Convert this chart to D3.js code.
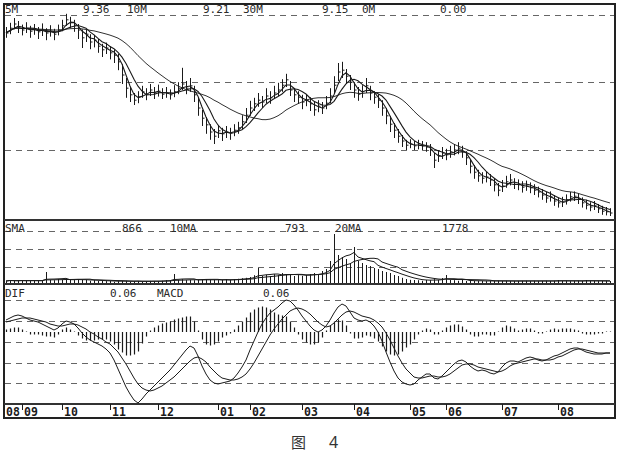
<!DOCTYPE html>
<html><head><meta charset="utf-8">
<script src="https://cdn.jsdelivr.net/npm/d3@7"></script>
<style>body{margin:0;background:#fff}svg{display:block}</style>
</head><body>
<script>
// ---------- DATA ----------
const closes = [9.30,9.38,9.45,9.40,9.35,9.38,9.33,9.37,9.32,9.35,9.30,9.33,9.28,9.35,9.42,9.52,9.48,9.43,9.35,9.22,
9.28,9.15,9.18,9.08,9.02,9.05,8.97,8.93,8.82,8.60,8.38,8.27,8.18,8.23,8.32,8.27,8.35,8.30,8.33,8.28,
8.30,8.27,8.32,8.38,8.45,8.38,8.42,8.27,8.05,7.88,7.77,7.65,7.58,7.67,7.62,7.65,7.63,7.68,7.72,7.82,
7.93,8.05,8.12,8.18,8.15,8.25,8.22,8.30,8.35,8.43,8.52,8.35,8.27,8.23,8.15,8.18,8.12,8.02,8.08,8.05,
8.13,8.25,8.43,8.65,8.68,8.58,8.48,8.35,8.28,8.32,8.42,8.30,8.23,8.18,8.05,7.92,7.78,7.68,7.58,7.50,
7.43,7.45,7.42,7.43,7.42,7.40,7.35,7.18,7.25,7.30,7.27,7.32,7.35,7.38,7.32,7.22,7.08,6.98,6.92,6.88,
6.90,6.85,6.77,6.68,6.75,6.82,6.85,6.78,6.77,6.73,6.75,6.72,6.68,6.65,6.60,6.55,6.57,6.50,6.47,6.48,
6.52,6.57,6.58,6.53,6.47,6.43,6.40,6.42,6.37,6.33,6.32,6.30];
const highs = [9.40,9.47,9.55,9.50,9.44,9.48,9.42,9.45,9.40,9.46,9.38,9.43,9.37,9.44,9.52,9.62,9.57,9.52,9.45,9.36,
9.36,9.28,9.27,9.20,9.12,9.14,9.08,9.03,8.95,8.78,8.55,8.40,8.30,8.33,8.42,8.38,8.45,8.40,8.44,8.38,
8.40,8.36,8.43,8.48,8.72,8.50,8.55,8.42,8.22,8.02,7.90,7.78,7.70,7.77,7.72,7.75,7.72,7.78,7.82,7.93,
8.05,8.17,8.22,8.30,8.25,8.38,8.33,8.42,8.47,8.53,8.62,8.50,8.38,8.33,8.27,8.28,8.23,8.15,8.18,8.15,
8.25,8.38,8.58,8.80,8.82,8.70,8.60,8.48,8.40,8.43,8.55,8.42,8.33,8.28,8.18,8.05,7.92,7.80,7.70,7.60,
7.52,7.53,7.50,7.52,7.50,7.48,7.45,7.30,7.35,7.40,7.37,7.42,7.45,7.48,7.42,7.33,7.20,7.10,7.02,6.98,
6.99,6.95,6.88,6.80,6.85,6.92,6.95,6.88,6.86,6.83,6.84,6.81,6.78,6.74,6.70,6.65,6.66,6.60,6.56,6.57,
6.61,6.65,6.66,6.62,6.56,6.52,6.48,6.50,6.45,6.42,6.40,6.38];
const lows = [9.22,9.28,9.36,9.30,9.26,9.30,9.22,9.27,9.20,9.25,9.18,9.24,9.18,9.26,9.33,9.42,9.38,9.32,9.20,9.05,
9.15,9.03,9.06,8.97,8.90,8.95,8.86,8.80,8.68,8.45,8.22,8.15,8.10,8.13,8.22,8.18,8.25,8.20,8.24,8.20,
8.22,8.19,8.23,8.28,8.35,8.28,8.32,8.15,7.92,7.75,7.62,7.52,7.45,7.55,7.50,7.55,7.52,7.58,7.62,7.70,
7.80,7.92,8.00,8.07,8.05,8.13,8.12,8.20,8.25,8.32,8.40,8.25,8.15,8.12,8.03,8.08,8.00,7.92,7.98,7.95,
8.03,8.13,8.30,8.50,8.55,8.45,8.35,8.22,8.17,8.22,8.30,8.18,8.12,8.05,7.92,7.78,7.65,7.55,7.47,7.40,
7.35,7.38,7.35,7.36,7.34,7.32,7.25,7.05,7.15,7.20,7.18,7.22,7.26,7.28,7.22,7.10,6.96,6.87,6.82,6.79,
6.81,6.75,6.66,6.58,6.65,6.72,6.76,6.70,6.68,6.64,6.67,6.63,6.60,6.56,6.52,6.47,6.49,6.42,6.39,6.40,
6.44,6.49,6.50,6.45,6.39,6.36,6.33,6.35,6.30,6.27,6.26,6.25];
const volumes = [200,300,210,220,280,200,230,290,210,200,1100,300,280,400,320,380,300,290,400,310,
300,220,280,200,210,190,200,120,180,200,210,130,180,200,110,190,210,200,190,220,
280,300,900,300,380,290,310,280,300,320,400,300,310,290,300,380,310,400,420,480,
520,600,780,1500,700,820,690,880,800,1000,900,820,700,790,720,800,900,1000,880,1200,
1400,2200,4900,2800,2600,2400,2000,3600,2200,2000,1800,1700,1500,1400,1200,1100,1000,800,700,520,
400,320,300,280,220,300,290,380,300,500,800,300,280,220,300,200,210,200,220,200,
190,210,200,220,200,210,200,190,200,210,220,200,210,190,200,220,200,210,300,200,
210,190,200,220,200,300,210,200,190,200,210,200];
const dif = [0.060,0.070,0.080,0.085,0.080,0.070,0.060,0.055,0.050,0.040,0.030,0.020,0.010,0.020,0.040,0.055,0.050,0.040,0.020,-0.005,
-0.025,-0.040,-0.050,-0.060,-0.070,-0.085,-0.105,-0.140,-0.185,-0.230,-0.275,-0.310,-0.340,-0.355,-0.335,-0.310,-0.290,-0.270,-0.250,-0.230,
-0.210,-0.190,-0.165,-0.140,-0.115,-0.090,-0.070,-0.080,-0.120,-0.170,-0.210,-0.240,-0.255,-0.260,-0.255,-0.250,-0.245,-0.230,-0.205,-0.175,
-0.140,-0.090,-0.045,0.000,0.040,0.070,0.095,0.110,0.125,0.145,0.160,0.155,0.135,0.110,0.080,0.055,0.030,0.010,0.000,0.010,
0.030,0.060,0.095,0.125,0.140,0.130,0.100,0.070,0.060,0.055,0.060,0.050,0.030,0.000,-0.045,-0.100,-0.150,-0.195,-0.230,-0.250,
-0.260,-0.265,-0.260,-0.240,-0.225,-0.210,-0.210,-0.230,-0.235,-0.220,-0.200,-0.180,-0.160,-0.145,-0.140,-0.150,-0.170,-0.185,-0.195,-0.190,
-0.195,-0.205,-0.210,-0.200,-0.175,-0.155,-0.145,-0.145,-0.150,-0.140,-0.130,-0.125,-0.130,-0.140,-0.145,-0.140,-0.130,-0.120,-0.115,-0.105,
-0.095,-0.085,-0.080,-0.080,-0.090,-0.100,-0.105,-0.110,-0.110,-0.110,-0.105,-0.105];
const dea = [0.050,0.055,0.060,0.065,0.070,0.070,0.070,0.065,0.060,0.055,0.050,0.040,0.035,0.030,0.030,0.035,0.040,0.040,0.035,0.025,
0.015,0.000,-0.010,-0.025,-0.035,-0.050,-0.060,-0.080,-0.100,-0.130,-0.160,-0.195,-0.230,-0.260,-0.280,-0.290,-0.295,-0.290,-0.280,-0.270,
-0.255,-0.240,-0.225,-0.205,-0.185,-0.165,-0.145,-0.130,-0.125,-0.135,-0.150,-0.175,-0.195,-0.215,-0.230,-0.235,-0.240,-0.240,-0.235,-0.225,
-0.210,-0.185,-0.155,-0.120,-0.085,-0.050,-0.015,0.015,0.040,0.065,0.085,0.105,0.115,0.120,0.115,0.105,0.090,0.070,0.050,0.035,
0.025,0.030,0.045,0.065,0.085,0.100,0.105,0.100,0.090,0.080,0.075,0.070,0.060,0.045,0.025,-0.005,-0.040,-0.080,-0.120,-0.155,
-0.185,-0.205,-0.225,-0.230,-0.230,-0.225,-0.220,-0.220,-0.225,-0.225,-0.220,-0.210,-0.195,-0.180,-0.165,-0.160,-0.160,-0.165,-0.175,-0.180,
-0.185,-0.190,-0.195,-0.200,-0.195,-0.185,-0.170,-0.160,-0.155,-0.150,-0.145,-0.140,-0.135,-0.135,-0.140,-0.140,-0.140,-0.135,-0.125,-0.120,
-0.110,-0.100,-0.090,-0.085,-0.085,-0.090,-0.095,-0.100,-0.105,-0.105,-0.105,-0.105];
const monthLabels = ["08","09","10","11","12","01","02","03","04","05","06","07","08"];
const monthIndex  = [-0.5,4,14,26,38,53,61,74,87,101,110,124,138];
const priceGrid = [9.6, 8.48, 7.35];
const volGrid = [5200, 3400, 1600];
const macdGrid = [0.16, 0.055, -0.05, -0.155, -0.255];
const priceHeader = [["5M",5],["9.36",83],["10M",127],["9.21",203],["30M",243],["9.15",322],["0M",362],["0.00",440]];
const volHeader = [["SMA",5],["866",122],["10MA",170],["793",285],["20MA",335],["1778",442]];
const macdHeader = [["DIF",5],["0.06",110],["MACD",157],["0.06",263]];
const maWindows = [3, 6, 18];      // 5M / 10M / 30M in bar units
const volMaWindows = [6, 12];      // 10MA / 20MA in bar units

// ---------- CHART ----------
const W = 622, H = 455;
const svg = d3.select("body").append("svg").attr("width", W).attr("height", H);
svg.append("rect").attr("width", W).attr("height", H).attr("fill", "#fff");
const N = closes.length;
const x = d3.scaleLinear().domain([0, N - 1]).range([6, 610]);
const yP = d3.scaleLinear().domain([6.25, 9.8]).range([216, 3]);
const yV = d3.scaleLinear().domain([0, 6400]).range([283, 219]);
const yM = d3.scaleLinear().domain([-0.5, 0.5]).range([432, 232]);
const ink = "#1a1a1a";
const defs = svg.append("defs");
function clip(id, y0, y1) {
  defs.append("clipPath").attr("id", id).append("rect").attr("x", 4).attr("y", y0).attr("width", 610).attr("height", y1 - y0);
}
clip("cp", 4, 218); clip("cv", 220, 283); clip("cm", 286, 403);

function ma(arr, n) {
  return arr.map((_, i) => { const s = arr.slice(Math.max(0, i - n + 1), i + 1); return d3.mean(s); });
}
function dashed(g, ys) {
  g.selectAll(".g").data(ys).join("line").attr("x1", 5).attr("x2", 614)
   .attr("y1", d => d).attr("y2", d => d)
   .attr("stroke", "#666").attr("stroke-width", 1.2).attr("stroke-dasharray", "6,5");
}

// Price panel
const gp = svg.append("g").attr("clip-path", "url(#cp)");
dashed(gp, priceGrid.map(v => Math.round(yP(v)) + 0.5));
gp.selectAll(".hl").data(closes).join("line")
  .attr("x1", (d, i) => Math.round(x(i)) + 0.5).attr("x2", (d, i) => Math.round(x(i)) + 0.5)
  .attr("y1", (d, i) => yP(highs[i])).attr("y2", (d, i) => yP(lows[i]))
  .attr("stroke", ink).attr("stroke-width", 1);
gp.selectAll(".cl").data(closes).join("line")
  .attr("x1", (d, i) => Math.round(x(i)) + 0.5).attr("x2", (d, i) => Math.round(x(i)) + 2.5)
  .attr("y1", d => yP(d)).attr("y2", d => yP(d))
  .attr("stroke", ink).attr("stroke-width", 1);
const lineP = d3.line().x((d, i) => x(i)).y(d => yP(d));
maWindows.forEach((n, k) => {
  gp.append("path").datum(ma(closes, n)).attr("d", lineP).attr("fill", "none")
    .attr("stroke", ink).attr("stroke-width", k === 2 ? 0.9 : 1.1);
});

// Volume panel
const gv = svg.append("g").attr("clip-path", "url(#cv)");
dashed(gv, volGrid.map(v => Math.round(yV(v)) + 0.5));
gv.selectAll(".vb").data(volumes).join("line")
  .attr("x1", (d, i) => Math.round(x(i)) + 0.5).attr("x2", (d, i) => Math.round(x(i)) + 0.5)
  .attr("y1", yV(0)).attr("y2", d => yV(d)).attr("stroke", ink).attr("stroke-width", 1);
const lineV = d3.line().x((d, i) => x(i)).y(d => yV(d));
volMaWindows.forEach(n => {
  gv.append("path").datum(ma(volumes, n)).attr("d", lineV).attr("fill", "none").attr("stroke", ink).attr("stroke-width", 1);
});

// MACD panel
const gm = svg.append("g").attr("clip-path", "url(#cm)");
dashed(gm, macdGrid.map(v => Math.round(yM(v)) + 0.5));
gm.selectAll(".mb").data(dif).join("line")
  .attr("x1", (d, i) => Math.round(x(i)) + 0.5).attr("x2", (d, i) => Math.round(x(i)) + 0.5)
  .attr("y1", yM(0)).attr("y2", (d, i) => yM(d - dea[i]) + (d - dea[i] >= 0 ? -0.5 : 0.5))
  .attr("stroke", ink).attr("stroke-width", 1.2);
const lineM = d3.line().x((d, i) => x(i)).y(d => yM(d));
gm.append("path").datum(dif).attr("d", lineM).attr("fill", "none").attr("stroke", ink).attr("stroke-width", 1);
gm.append("path").datum(dea).attr("d", lineM).attr("fill", "none").attr("stroke", ink).attr("stroke-width", 1);

// Frame & separators
svg.append("rect").attr("x", 4).attr("y", 4).attr("width", 611).attr("height", 414)
  .attr("fill", "none").attr("stroke", "#222").attr("stroke-width", 2);
[220, 284, 404].forEach(y => svg.append("line").attr("x1", 4).attr("x2", 615).attr("y1", y).attr("y2", y)
  .attr("stroke", "#333").attr("stroke-width", 2));

// Header texts
function header(list, y) {
  svg.selectAll(null).data(list).join("text").attr("x", d => d[1]).attr("y", y).text(d => d[0])
    .attr("font-family", "DejaVu Sans Mono, monospace").attr("font-size", 11).attr("fill", "#2a2a2a");
}
header(priceHeader, 13);
header(volHeader, 232);
header(macdHeader, 297);

// Month axis
const ga = svg.append("g");
ga.selectAll("line").data(monthIndex.slice(1)).join("line")
  .attr("x1", d => Math.round(x(d)) + 0.5).attr("x2", d => Math.round(x(d)) + 0.5)
  .attr("y1", 404).attr("y2", 410).attr("stroke", ink).attr("stroke-width", 1);
ga.selectAll("text").data(monthLabels).join("text")
  .attr("x", (d, i) => x(monthIndex[i]) + 2).attr("y", 416).text(d => d)
  .attr("font-family", "DejaVu Sans Mono, monospace").attr("font-weight", "bold")
  .attr("font-size", 11.5).attr("fill", "#1a1a1a");

// Caption
svg.append("text").attr("x", 291).attr("y", 448).text("图")
  .attr("font-family", "Noto Sans CJK SC").attr("font-size", 15).attr("fill", "#333");
svg.append("text").attr("x", 329).attr("y", 448).text("4")
  .attr("font-family", "Noto Sans, sans-serif").attr("font-size", 16).attr("fill", "#333");
</script>
</body></html>
